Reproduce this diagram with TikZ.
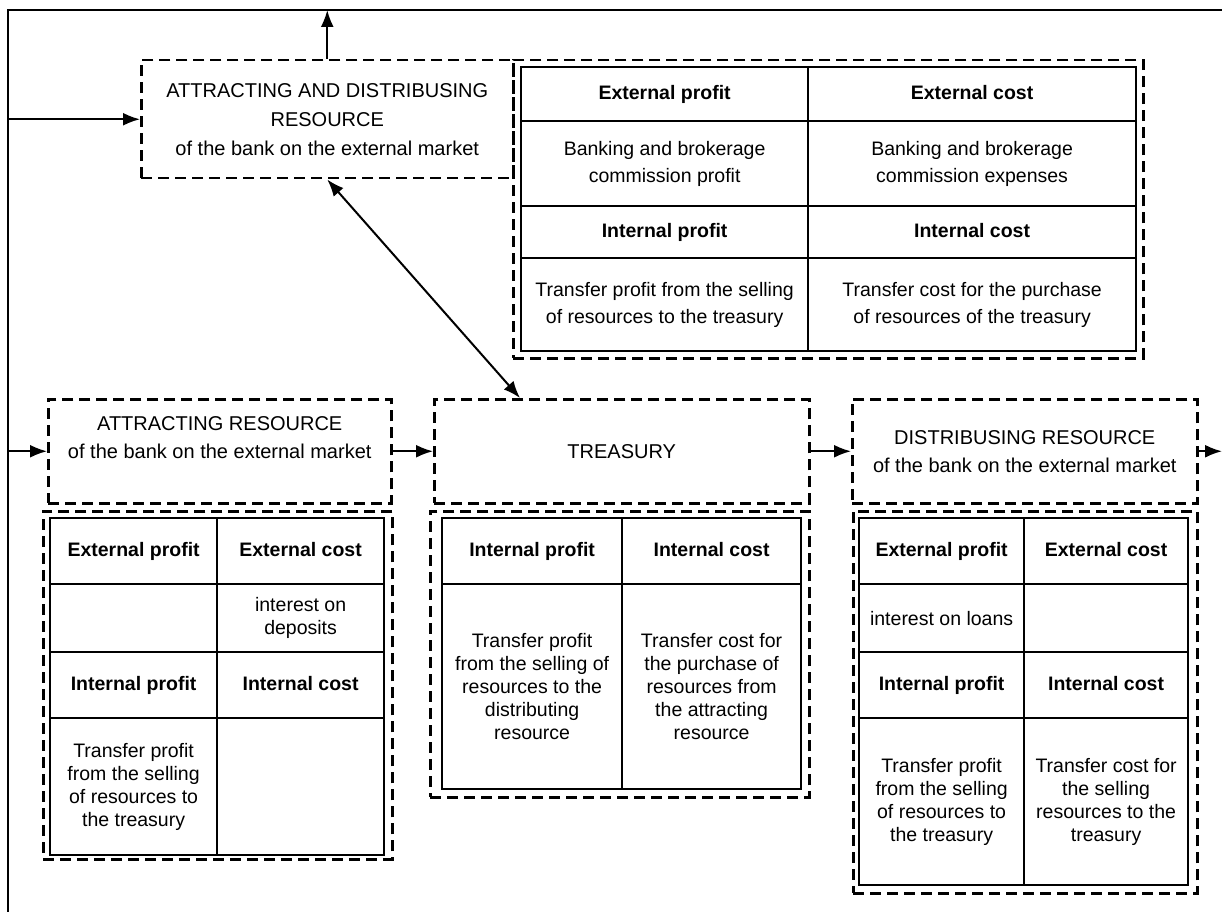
\documentclass[tikz,border=0pt]{standalone}
\usepackage{fontspec}
\setmainfont{Liberation Sans}
\usetikzlibrary{arrows.meta}

\begin{document}
\begin{tikzpicture}[x=1pt,y=-1pt,
box/.style={draw,dash pattern=on 11pt off 6pt,line width=2.5pt,inner sep=0pt,anchor=north west,align=center},
cell/.style={draw,line width=2.2pt,inner sep=2pt,anchor=north west,align=center,font=\fontsize{19.5}{23}\selectfont},
hcell/.style={cell,font=\fontsize{19.5}{23}\selectfont\bfseries,text height=14pt,text depth=4pt},
arr/.style={-{Latex[length=17pt,width=13pt]},line width=2pt}]
\useasboundingbox (0,0) rectangle (1222,912);

% outer loop
\coordinate (tl) at (8,10);
\coordinate (tr) at (1222,10);
\coordinate (bl) at (8,912);
\draw[line width=2.2pt] (tr) -- (tl) -- (bl);

% attracting and distribusing resource
\node (adr) [box,minimum width=372,minimum height=118,font=\fontsize{20}{29}\selectfont] at (140,59)
  {ATTRACTING AND DISTRIBUSING\\RESOURCE\\of the bank on the external market};
\node (adrtab) [box,minimum width=630,minimum height=298] at (512,59) {};
\node (adrep) [hcell,minimum width=287,minimum height=54] at (520,66) {External profit};
\node (adrec) [hcell,minimum width=328,minimum height=54] at (807,66) {External cost};
\node (adrepv) [cell,minimum width=287,minimum height=85,font=\fontsize{19.5}{27}\selectfont] at (520,120)
  {Banking and brokerage\\commission profit};
\node (adrecv) [cell,minimum width=328,minimum height=85,font=\fontsize{19.5}{27}\selectfont] at (807,120)
  {Banking and brokerage\\commission expenses};
\node (adrip) [hcell,minimum width=287,minimum height=52] at (520,205) {Internal profit};
\node (adric) [hcell,minimum width=328,minimum height=52] at (807,205) {Internal cost};
\node (adripv) [cell,minimum width=287,minimum height=93,font=\fontsize{19.5}{27}\selectfont] at (520,257)
  {Transfer profit from the selling\\of resources to the treasury};
\node (adricv) [cell,minimum width=328,minimum height=93,font=\fontsize{19.5}{27}\selectfont] at (807,257)
  {Transfer cost for the purchase\\of resources of the treasury};

% middle row
\node (att) [box,minimum width=343,minimum height=104,font=\fontsize{20}{28}\selectfont] at (47,398)
  {ATTRACTING RESOURCE\\of the bank on the external market\\\mbox{}};
\node (tre) [box,minimum width=375,minimum height=104,font=\fontsize{20}{28}\selectfont] at (433,398) {TREASURY};
\node (dis) [box,minimum width=345,minimum height=104,font=\fontsize{20}{28}\selectfont] at (851,398)
  {DISTRIBUSING RESOURCE\\of the bank on the external market};

% attracting table
\node (atttab) [box,minimum width=349,minimum height=348] at (42,510) {};
\node (attep) [hcell,minimum width=167,minimum height=66] at (49,517) {External profit};
\node (attec) [hcell,minimum width=167,minimum height=66] at (216,517) {External cost};
\node (attepv) [cell,minimum width=167,minimum height=68] at (49,583) {};
\node (attecv) [cell,minimum width=167,minimum height=68] at (216,583) {interest on\\deposits};
\node (attip) [hcell,minimum width=167,minimum height=66] at (49,651) {Internal profit};
\node (attic) [hcell,minimum width=167,minimum height=66] at (216,651) {Internal cost};
\node (attipv) [cell,minimum width=167,minimum height=137] at (49,717)
  {Transfer profit\\from the selling\\of resources to\\the treasury};
\node (atticv) [cell,minimum width=167,minimum height=137] at (216,717) {};

% treasury table
\node (tretab) [box,minimum width=379,minimum height=286] at (429,510) {};
\node (treip) [hcell,minimum width=180,minimum height=66] at (441,517) {Internal profit};
\node (treic) [hcell,minimum width=179,minimum height=66] at (621,517) {Internal cost};
\node (treipv) [cell,minimum width=180,minimum height=205] at (441,583)
  {Transfer profit\\from the selling of\\resources to the\\distributing\\resource};
\node (treicv) [cell,minimum width=179,minimum height=205] at (621,583)
  {Transfer cost for\\the purchase of\\resources from\\the attracting\\resource};

% distribusing table
\node (distab) [box,minimum width=344,minimum height=382] at (852,510) {};
\node (disep) [hcell,minimum width=165,minimum height=66] at (858,517) {External profit};
\node (disec) [hcell,minimum width=164,minimum height=66] at (1023,517) {External cost};
\node (disepv) [cell,minimum width=165,minimum height=68] at (858,583) {interest on loans};
\node (disecv) [cell,minimum width=164,minimum height=68] at (1023,583) {};
\node (disip) [hcell,minimum width=165,minimum height=66] at (858,651) {Internal profit};
\node (disic) [hcell,minimum width=164,minimum height=66] at (1023,651) {Internal cost};
\node (disipv) [cell,minimum width=165,minimum height=167] at (858,717)
  {Transfer profit\\from the selling\\of resources to\\the treasury};
\node (disicv) [cell,minimum width=164,minimum height=167] at (1023,717)
  {Transfer cost for\\the selling\\resources to the\\treasury};

% connectors
\draw[arr] (tl |- adr.west) -- (adr.west);
\draw[arr] (adr.north) -- (adr.north |- tl);
\draw[{Latex[length=17pt,width=13pt]}-{Latex[length=17pt,width=13pt]},line width=2pt]
  (adr.south) -- ([xshift=87pt]tre.north west);
\draw[arr] (tl |- att.west) -- (att.west);
\draw[arr] (att.east) -- (tre.west);
\draw[arr] (tre.east) -- (dis.west);
\coordinate (out) at (tr |- dis.east);
\draw[arr] (dis.east) -- (out);
\end{tikzpicture}
\end{document}
